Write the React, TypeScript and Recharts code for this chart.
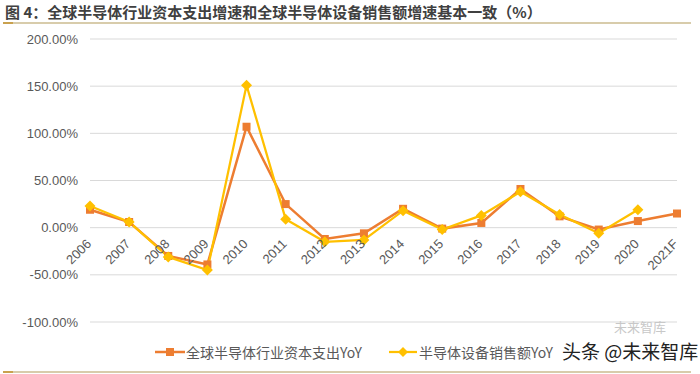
import React from "react";
import { LineChart, Line, XAxis, YAxis, CartesianGrid } from "recharts";

const categories = ["2006", "2007", "2008", "2009", "2010", "2011", "2012", "2013", "2014", "2015", "2016", "2017", "2018", "2019", "2020", "2021F"];
const capexYoY = [19, 6, -30, -39, 107, 25, -12, -6, 20, -1, 5, 41, 12, -2, 7, 15];
const equipYoY: (number | null)[] = [23, 6, -31, -45, 151, 9, -15, -13, 18, -2, 13, 38, 14, -6, 19, null];
const yTicks = [-100, -50, 0, 50, 100, 150, 200];
const seriesNames = ["全球半导体行业资本支出YoY", "半导体设备销售额YoY"];

const Y_MIN = -100;
const Y_MAX = 200;
const W = 700;
const H = 374;
const M_TOP = 39;
const M_BOTTOM = 51;
const X_AXIS_H = 1;
const PLOT_H = H - M_TOP - M_BOTTOM - X_AXIS_H;

const ORANGE = "#ED7D31";
const YELLOW = "#FFC000";
const TEXT = "#595959";
const LATIN = "'Liberation Sans', Arial, 'Noto Sans CJK SC', sans-serif";
const CJK = "'Noto Sans CJK SC', 'Liberation Sans', sans-serif";

const data = categories.map((c, i) => ({ cat: c, capex: capexYoY[i], equip: equipYoY[i] }));

const XTick = (props: any) => {
  const { x, y, payload } = props;
  const zeroY = y - (PLOT_H * (0 - Y_MIN)) / (Y_MAX - Y_MIN);
  const px = x + 2;
  const py = zeroY + 17;
  return (
    <text x={px} y={py} transform={`rotate(-45 ${px} ${py})`} textAnchor="end" fill={TEXT} fontSize={13} fontFamily={LATIN}>
      {payload.value}
    </text>
  );
};

const SquareDot = (props: any) => {
  const { cx, cy, value } = props;
  if (value == null || cx == null || cy == null) return null;
  const s = 8;
  return <rect x={cx - s / 2} y={cy - s / 2} width={s} height={s} fill={ORANGE} />;
};

const DiamondDot = (props: any) => {
  const { cx, cy, value } = props;
  if (value == null || cx == null || cy == null) return null;
  const r = 5.5;
  return <path d={`M${cx},${cy - r}L${cx + r},${cy}L${cx},${cy + r}L${cx - r},${cy}Z`} fill={YELLOW} />;
};

export default function App() {
  return (
    <div style={{ position: "absolute", left: 0, top: 0, width: W, height: H, background: "#fff", overflow: "hidden" }}>
      <div
        style={{
          position: "absolute",
          left: 5,
          top: 2,
          fontFamily: CJK,
          fontWeight: 700,
          fontSize: 15,
          lineHeight: "19px",
          color: "#404040",
          whiteSpace: "nowrap",
        }}
      >
        图 4：全球半导体行业资本支出增速和全球半导体设备销售额增速基本一致（%）
      </div>
      <div style={{ position: "absolute", left: 3, top: 22, width: 688, height: 1.5, background: "#D8CCAB" }} />
      <div style={{ position: "absolute", left: 3, top: 21.5, width: 10, height: 2, background: "#C9A14E" }} />
      <div style={{ position: "absolute", left: 3, top: 371, width: 688, height: 1.5, background: "#D8CCAB" }} />
      <div style={{ position: "absolute", left: 3, top: 370.5, width: 10, height: 2, background: "#C9A14E" }} />

      <div style={{ position: "absolute", left: 0, top: 0 }}>
        <LineChart width={W} height={H} data={data} margin={{ top: M_TOP, right: 23, bottom: M_BOTTOM, left: 0 }}>
          <CartesianGrid vertical={false} stroke="#D9D9D9" strokeWidth={1} />
          <XAxis
            dataKey="cat"
            height={X_AXIS_H}
            axisLine={false}
            tickLine={false}
            tickSize={0}
            tickMargin={0}
            interval={0}
            tick={<XTick />}
          />
          <YAxis
            domain={[Y_MIN, Y_MAX]}
            ticks={yTicks}
            width={90}
            axisLine={false}
            tickLine={false}
            tickSize={0}
            tickMargin={12}
            tick={{ fill: TEXT, fontSize: 13, fontFamily: LATIN }}
            tickFormatter={(v: number) => `${v.toFixed(2)}%`}
            interval={0}
          />
          <Line
            type="linear"
            dataKey="capex"
            name={seriesNames[0]}
            stroke={ORANGE}
            strokeWidth={2.5}
            dot={<SquareDot />}
            activeDot={false}
            isAnimationActive={false}
          />
          <Line
            type="linear"
            dataKey="equip"
            name={seriesNames[1]}
            stroke={YELLOW}
            strokeWidth={2.25}
            dot={<DiamondDot />}
            activeDot={false}
            isAnimationActive={false}
          />
        </LineChart>
      </div>

      {/* legend */}
      <div style={{ position: "absolute", left: 155, top: 342, height: 20, display: "flex", alignItems: "center", fontFamily: CJK, fontSize: 14, color: TEXT, whiteSpace: "nowrap" }}>
        <svg width={30} height={12} style={{ marginRight: 1 }}>
          <line x1={0} y1={6} x2={30} y2={6} stroke={ORANGE} strokeWidth={2.5} />
          <rect x={11} y={2} width={8} height={8} fill={ORANGE} />
        </svg>
        <span>{seriesNames[0]}</span>
      </div>
      <div style={{ position: "absolute", left: 389, top: 342, height: 20, display: "flex", alignItems: "center", fontFamily: CJK, fontSize: 14, color: TEXT, whiteSpace: "nowrap" }}>
        <svg width={28} height={12} style={{ marginRight: 2 }}>
          <line x1={0} y1={6} x2={28} y2={6} stroke={YELLOW} strokeWidth={2.25} />
          <path d="M14,1L19,6L14,11L9,6Z" fill={YELLOW} />
        </svg>
        <span>{seriesNames[1]}</span>
      </div>

      {/* watermark */}
      <div style={{ position: "absolute", left: 614, top: 319, fontFamily: CJK, fontSize: 13, lineHeight: "15px", color: "#C8C8C8", whiteSpace: "nowrap" }}>
        未来智库
      </div>
      <div style={{ position: "absolute", left: 562, top: 341, fontFamily: CJK, fontSize: 19, color: "#222", whiteSpace: "nowrap", lineHeight: "20px" }}>
        头条 @未来智库
      </div>
    </div>
  );
}
